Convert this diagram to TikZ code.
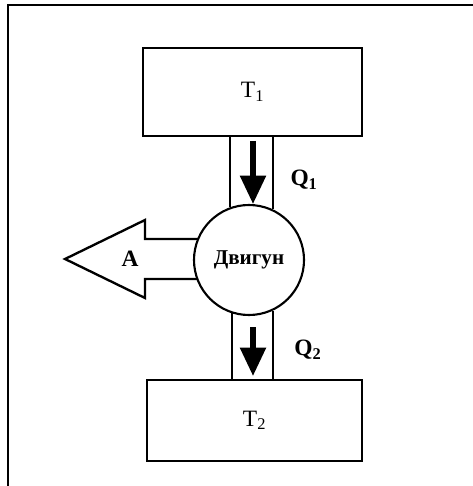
\documentclass[tikz,border=0pt]{standalone}
\usepackage{fontspec}
\setmainfont{Liberation Serif}
\usetikzlibrary{arrows.meta}

\begin{document}
\begin{tikzpicture}[
  x=0.03cm,
  y=-0.03cm,
  frame/.style={draw=black, line width=1.8pt},
  reservoir/.style={draw=black, line width=2.4pt, font=\fontsize{20}{24}\selectfont},
  engine/.style={circle, draw=black, fill=white, line width=1.8pt,
    minimum size=3.3cm, inner sep=0pt, font=\bfseries\fontsize{18}{22}\selectfont},
  channel/.style={draw=black, line width=2pt},
  flow/.style={draw=black, line width=4.5pt, -{Triangle[width=0.75cm,length=0.85cm]}},
  work/.style={draw=black, line width=2pt, line join=miter},
  heatlabel/.style={font=\bfseries\fontsize{20}{24}\selectfont}
]
  \useasboundingbox (0,0) rectangle (472,486);

  % Page frame, open at the right and at the bottom.
  \draw[frame] (8,492) -- (8,5) -- (478,5);

  % Hot and cold reservoirs.
  \node[reservoir, minimum width=6.57cm, minimum height=2.64cm]
    (hot) at (252.5,92) {T\textsubscript{1}};
  \node[reservoir, minimum width=6.45cm, minimum height=2.43cm]
    (cold) at (254.5,420.5) {T\textsubscript{2}};

  % Work leaves the engine to the left.
  \draw[work] (205,239) -- (145,239) -- (145,220) -- (65,259)
    -- (145,298) -- (145,279) -- (205,279);
  \node[heatlabel] (work) at (130,259) {A};

  % The engine itself.
  \node[engine] (eng) at (249,260) {Двигун};

  % Heat channels between reservoirs and engine.
  \draw[channel] (eng.110) -- (eng.110 |- hot.south);
  \draw[channel] (eng.65) -- (eng.65 |- hot.south);
  \draw[channel] (eng.-108) -- (eng.-108 |- cold.north);
  \draw[channel] (eng.-65) -- (eng.-65 |- cold.north);

  % Heat flows.
  \coordinate (q1top) at (253,141);
  \coordinate (q1tip) at (253,204);
  \coordinate (q2top) at (253,327);
  \coordinate (q2tip) at (253,376);
  \draw[flow] (q1top) -- (q1tip);
  \draw[flow] (q2top) -- (q2tip);
  \node[heatlabel] (q1) at (304,180) {Q\textsubscript{1}};
  \node[heatlabel] (q2) at (308,350) {Q\textsubscript{2}};

\end{tikzpicture}
\end{document}
